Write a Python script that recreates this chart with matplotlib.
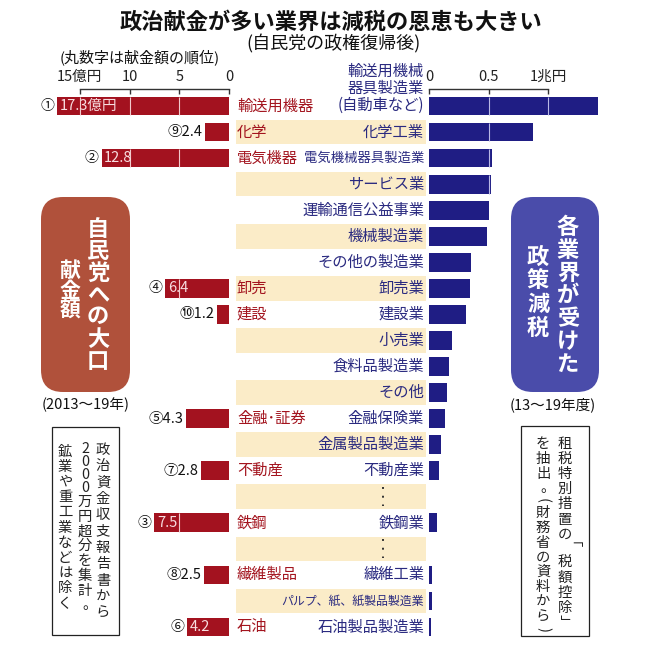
import matplotlib.pyplot as plt
from matplotlib.patches import FancyBboxPatch, Rectangle

plt.rcParams['font.family'] = ['Noto Sans CJK JP', 'DejaVu Sans']

# industries receiving policy tax cuts (trillion yen, FY2013-19)
tax_labels = ['輸送用機械\n器具製造業\n(自動車など)', '化学工業', '電気機械器具製造業',
              'サービス業', '運輸通信公益事業', '機械製造業', 'その他の製造業', '卸売業',
              '建設業', '小売業', '食料品製造業', 'その他', '金融保険業', '金属製品製造業',
              '不動産業', '', '鉄鋼業', '', '繊維工業', 'パルプ、紙、紙製品製造業',
              '石油製品製造業']
tax_values = [1.42, 0.87, 0.53, 0.52, 0.50, 0.49, 0.35, 0.345, 0.31, 0.195, 0.168,
              0.149, 0.134, 0.097, 0.081, None, 0.064, None, 0.026, 0.024, 0.017]

# donations to the LDP (100 million yen, 2013-19)
donation_labels = ['輸送用機器', '化学', '電気機器', '', '', '', '', '卸売', '建設', '',
                   '', '', '金融･証券', '', '不動産', '', '鉄鋼', '', '繊維製品', '', '石油']
donation_values = [17.3, 2.4, 12.8, None, None, None, None, 6.4, 1.2, None, None, None,
                   4.3, None, 2.8, None, 7.5, None, 2.5, None, 4.2]
donation_ranks = [1, 9, 2, None, None, None, None, 4, 10, None, None, None,
                  5, None, 7, None, 3, None, 8, None, 6]
label_inside = [True, False, True, None, None, None, None, True, False, None, None, None,
                False, None, False, None, True, None, False, None, True]

left_ticks = [0, 5, 10, 15]
left_tick_labels = ['0', '5', '10', '15億円']
right_ticks = [0, 0.5, 1]
right_tick_labels = ['0', '0.5', '1兆円']

RED = '#a3121f'
BLUE = '#1f1d84'
BEIGE = '#fbecc8'
RED_TXT = '#a3141e'
BLUE_TXT = '#2a2a80'

W, H = 657, 664
fig = plt.figure(figsize=(W / 100, H / 100), dpi=100)
fig.patch.set_facecolor('white')


def px_axes(x0, y0, x1, y1):
    return fig.add_axes([x0 / W, 1 - y1 / H, (x1 - x0) / W, (y1 - y0) / H])


def vertical(ax, x, y, text, pitch, **kw):
    # stack characters top to bottom like tategaki
    for ch in text:
        step, rot, dx, dy = pitch, 0, 0, 0
        if ch in '()「」':
            step, rot = pitch * 0.8, -90
        elif ch == '。':
            step, dx = pitch * 0.9, pitch * 0.3
        elif ch.isdigit():
            step = pitch * 0.87
        ax.text(x + dx, y + step / 2 + dy, ch, rotation=rot, ha='center',
                va='center', **kw)
        y += step


n = len(tax_labels)
rows = list(range(n))
row_top, row_bot = 93, 640

# background / annotation layer in pixel coordinates
bg = fig.add_axes([0, 0, 1, 1])
bg.set_xlim(0, W)
bg.set_ylim(H, 0)
bg.axis('off')

bg.text(331, 22, '政治献金が多い業界は減税の恩恵も大きい', ha='center', va='center',
        fontsize=16, fontweight='bold', color='#111111')
bg.text(333, 44, '(自民党の政権復帰後)', ha='center', va='center', fontsize=13,
        color='#111111')
bg.text(140, 57, '(丸数字は献金額の順位)', ha='center', va='center', fontsize=10.8,
        color='#111111')

bg.add_patch(FancyBboxPatch((41, 197), 89, 195, boxstyle='round,pad=0,rounding_size=22',
                            fc='#b0513b', ec='none'))
bg.add_patch(FancyBboxPatch((511, 197), 88, 195, boxstyle='round,pad=0,rounding_size=22',
                            fc='#4a4caa', ec='none'))
vertical(bg, 98, 218, '自民党への大口', 22, fontsize=16, fontweight='bold', color='white')
vertical(bg, 70, 261, '献金額', 19.5, fontsize=15, fontweight='bold', color='white')
vertical(bg, 568, 216, '各業界が受けた', 22.8, fontsize=16, fontweight='bold', color='white')
vertical(bg, 538, 245, '政策減税', 23.8, fontsize=16, fontweight='bold', color='white')

bg.text(86, 405, '(2013〜19年)', ha='center', va='center', fontsize=10.5, color='#111111')
bg.text(553, 405, '(13〜19年度)', ha='center', va='center', fontsize=10.5, color='#111111')

bg.add_patch(Rectangle((52, 427), 67, 208, fill=False, ec='#222222', lw=0.9))
bg.add_patch(Rectangle((521, 426), 68, 210, fill=False, ec='#222222', lw=0.9))
note_kw = dict(fontsize=10.3, color='#222222')
vertical(bg, 103, 442, '政治資金収支報告書から', 16.3, **note_kw)
vertical(bg, 85, 443, '2000万円超分を集計。', 14.8, **note_kw)
vertical(bg, 65, 444, '鉱業や重工業などは除く', 15.2, **note_kw)
vertical(bg, 565, 436, '租税特別措置の「税額控除」', 15.2, **note_kw)
vertical(bg, 543, 437, 'を抽出。(財務省の資料から)', 14.7, **note_kw)

# middle: beige bands and category labels
mid = px_axes(236, row_top, 426, row_bot)
mid.set_xlim(0, 1)
mid.set_ylim(n - 0.5, -0.5)
mid.axis('off')
mid.barh(rows[1::2], 1, left=0, height=0.94, color=BEIGE, lw=0)
label_size = {'電気機械器具製造業': 9.6, 'パルプ、紙、紙製品製造業': 8.6}
for i in rows:
    if donation_labels[i]:
        mid.text(0.005, i, donation_labels[i], ha='left', va='center', fontsize=11,
                 color=RED_TXT)
    lab = tax_labels[i]
    if lab:
        k = lab.count('\n')
        mid.text(0.99, i - k * 0.34, lab, ha='right', va='center', linespacing=1.0,
                 fontsize=label_size.get(lab, 11), color=BLUE_TXT, clip_on=False)
    if tax_values[i] is None:
        mid.plot([0.775, 0.775], [i - 0.36, i + 0.36], ls=(0, (1, 3.5)), lw=1.4,
                 color='#333333')

# left: donations
ax_l = px_axes(40, row_top, 229, row_bot)
ax_l.set_xlim(19, 0)
ax_l.set_ylim(n - 0.5, -0.5)
ax_l.axis('off')
bh = 0.72
for i in rows:
    v = donation_values[i]
    if v is None:
        continue
    ax_l.barh(i, v, height=bh, color=RED, lw=0)
    for t in left_ticks[1:]:
        if v > t:
            ax_l.vlines(t, i - bh / 2, i + bh / 2, color='#f2c9cc', lw=0.8)
    circ = chr(0x2460 + donation_ranks[i] - 1)
    txt = f'{v}' + ('億円' if i == 0 else '')
    if label_inside[i]:
        ax_l.text(v - 0.25, i, txt, ha='left', va='center', fontsize=10.5, color='#f8dde0')
        ax_l.text(v + 0.3, i, circ, ha='right', va='center', fontsize=10, color='#111111')
    else:
        ax_l.text(v + 0.25, i, circ + txt, ha='right', va='center', fontsize=10.5,
                  color='#111111')
ax_l.plot([0, 15], [-0.66, -0.66], color='#333333', lw=1, clip_on=False)
ax_l.vlines(left_ticks, -0.66, -0.47, color='#333333', lw=1, clip_on=False)
for t, s in zip(left_ticks, left_tick_labels):
    ax_l.text(t, -1.12, s, ha='center', va='center', fontsize=10.5, color='#222222')

# right: tax cuts
ax_r = px_axes(429, row_top, 610, row_bot)
ax_r.set_xlim(0, 181 / 119)
ax_r.set_ylim(n - 0.5, -0.5)
ax_r.axis('off')
for i in rows:
    v = tax_values[i]
    if v is None:
        continue
    ax_r.barh(i, v, height=bh, color=BLUE, lw=0)
    for t in right_ticks[1:]:
        if v > t:
            ax_r.vlines(t, i - bh / 2, i + bh / 2, color='#b9b9e6', lw=0.8)
ax_r.plot([0, 1], [-0.66, -0.66], color='#333333', lw=1, clip_on=False)
ax_r.vlines(right_ticks, -0.66, -0.47, color='#333333', lw=1, clip_on=False)
for t, s in zip(right_ticks, right_tick_labels):
    ax_r.text(t, -1.12, s, ha='center', va='center', fontsize=10.5, color='#222222')

fig.savefig('out.png', dpi=100)
